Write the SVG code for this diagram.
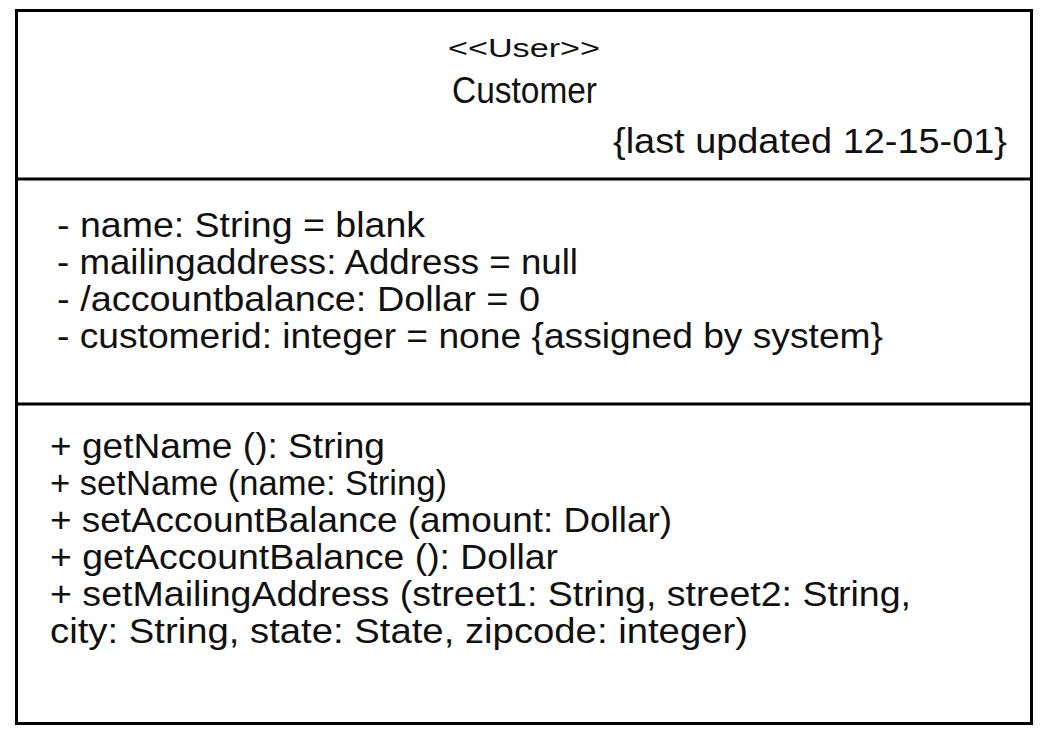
<svg xmlns="http://www.w3.org/2000/svg" width="1047" height="732" viewBox="0 0 1047 732">
<style>
.box{fill:#fff;stroke:#000;stroke-width:3}
.sep{stroke:#000;stroke-width:3}
text{font-family:"Liberation Sans",Arial,sans-serif;fill:#111;font-size:35px}
.st{font-size:26px}
.nm{font-size:37px}
</style>
<rect width="1047" height="732" fill="#fff"/>
<g id="customer-class">
<rect class="box" x="16.5" y="10.5" width="1015" height="713"/>
<line class="sep" x1="16.5" y1="179" x2="1031.5" y2="179"/>
<line class="sep" x1="16.5" y1="404" x2="1031.5" y2="404"/>
<g id="header">
<text class="st" x="448" y="57" textLength="152" lengthAdjust="spacingAndGlyphs">&lt;&lt;User&gt;&gt;</text>
<text class="nm" x="452" y="103" textLength="145" lengthAdjust="spacingAndGlyphs">Customer</text>
<text x="613" y="153" textLength="394" lengthAdjust="spacingAndGlyphs">{last updated 12-15-01}</text>
</g>
<g id="attributes">
<text x="57" y="237" textLength="368" lengthAdjust="spacingAndGlyphs">- name: String = blank</text>
<text x="57" y="274" textLength="521" lengthAdjust="spacingAndGlyphs">- mailingaddress: Address = null</text>
<text x="57" y="311" textLength="483" lengthAdjust="spacingAndGlyphs">- /accountbalance: Dollar = 0</text>
<text x="57" y="348" textLength="826" lengthAdjust="spacingAndGlyphs">- customerid: integer = none {assigned by system}</text>
</g>
<g id="operations">
<text x="50" y="458" textLength="335" lengthAdjust="spacingAndGlyphs">+ getName (): String</text>
<text x="50" y="495" textLength="397" lengthAdjust="spacingAndGlyphs">+ setName (name: String)</text>
<text x="50" y="532" textLength="622" lengthAdjust="spacingAndGlyphs">+ setAccountBalance (amount: Dollar)</text>
<text x="50" y="569" textLength="508" lengthAdjust="spacingAndGlyphs">+ getAccountBalance (): Dollar</text>
<text x="50" y="606" textLength="861" lengthAdjust="spacingAndGlyphs">+ setMailingAddress (street1: String, street2: String,</text>
<text x="50" y="643" textLength="698" lengthAdjust="spacingAndGlyphs">city: String, state: State, zipcode: integer)</text>
</g>
</g>
</svg>
